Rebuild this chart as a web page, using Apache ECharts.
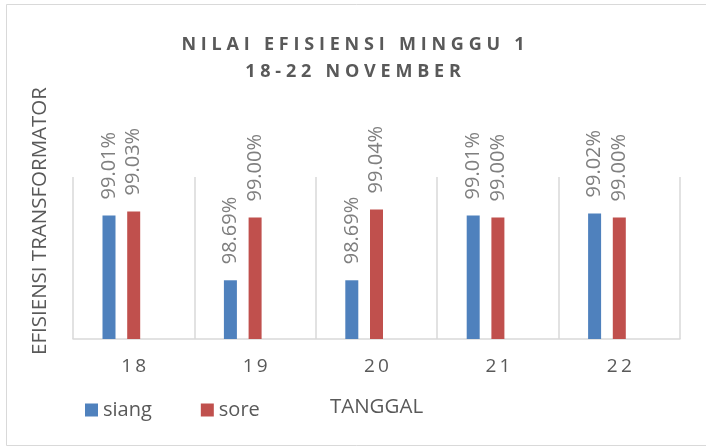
<!DOCTYPE html>
<html>
<head>
<meta charset="utf-8">
<script src="https://cdn.jsdelivr.net/npm/echarts@6/dist/echarts.min.js"></script>
<style>
  html, body { margin: 0; padding: 0; background: #fff; }
  #chart { width: 706px; height: 447px; }
</style>
</head>
<body>
<div id="chart"></div>
<script>
// data
const tanggal = ['18', '19', '20', '21', '22'];
const siang = [99.01, 98.69, 98.69, 99.01, 99.02];
const sore = [99.03, 99.00, 99.04, 99.00, 99.00];
// slot kosong, aslinya menyisakan tempat untuk bar ketiga
const kosong = ['-', '-', '-', '-', '-'];

const FONT = '"Open Sans", sans-serif';
const TEKS = '#595959';

// letter spacing lewat thin space
const renggang = (s, sp) => s.split('').join(sp || '\u2009');

const labelBar = {
    show: true,
    position: 'top',
    distance: 16,
    rotate: 90,
    align: 'left',
    verticalAlign: 'middle',
    color: '#7f7f7f',
    fontFamily: FONT,
    fontSize: 20,
    formatter: p => p.value.toFixed(2) + '%'
};

let myChart = echarts.init(document.getElementById('chart'));

let option = {
    backgroundColor: '#fff',
    animation: false,
    title: {
        text: renggang('NILAI EFISIENSI MINGGU 1', '\u2009\u200a') + '\n' +
              renggang('18-22 NOVEMBER', '\u2009\u200a'),
        left: 'center',
        top: 26,
        textStyle: {
            color: TEKS,
            fontFamily: FONT,
            fontWeight: 'bold',
            fontSize: 18,
            lineHeight: 27
        }
    },
    legend: {
        data: ['siang', 'sore'],
        left: 85,
        top: 400,
        padding: 0,
        icon: 'rect',
        itemWidth: 13,
        itemHeight: 13,
        itemGap: 49,
        textStyle: { color: TEKS, fontFamily: FONT, fontSize: 20 }
    },
    grid: { left: 73, right: 26, top: 177, bottom: 108 },
    xAxis: {
        type: 'category',
        data: tanggal,
        name: 'TANGGAL',
        nameLocation: 'middle',
        nameGap: 58,
        nameTextStyle: { color: TEKS, fontFamily: FONT, fontSize: 20.5 },
        axisLine: { lineStyle: { color: '#d9d9d9', width: 1.5 } },
        axisTick: { show: false },
        axisLabel: {
            color: TEKS,
            fontFamily: FONT,
            fontSize: 19,
            margin: 18,
            formatter: v => renggang(v)
        },
        splitLine: { show: true, lineStyle: { color: '#d9d9d9', width: 1.5 } }
    },
    yAxis: {
        type: 'value',
        min: 98.4,
        max: 99.2,
        axisLine: { show: false },
        axisTick: { show: false },
        axisLabel: { show: false },
        splitLine: { show: false }
    },
    graphic: [
        {
            type: 'rect',
            shape: { x: 6.5, y: 4.5, width: 710, height: 441 },
            style: { fill: 'none', stroke: '#d9d9d9', lineWidth: 1 },
            silent: true
        },
        {
            type: 'text',
            x: 40,
            y: 221,
            rotation: Math.PI / 2,
            style: {
                text: 'EFISIENSI TRANSFORMATOR',
                fill: TEKS,
                font: '20.5px "Open Sans", sans-serif',
                align: 'center',
                verticalAlign: 'middle'
            }
        }
    ],
    series: [
        {
            name: 'siang',
            type: 'bar',
            data: siang,
            barWidth: 13,
            barGap: '90%',
            itemStyle: { color: '#4f81bd' },
            label: labelBar
        },
        {
            name: 'sore',
            type: 'bar',
            data: sore,
            barWidth: 13,
            barGap: '90%',
            itemStyle: { color: '#c0504d' },
            label: labelBar
        },
        {
            name: 'kosong',
            type: 'bar',
            data: kosong,
            barWidth: 13,
            barGap: '90%'
        }
    ]
};

myChart.setOption(option);
</script>
</body>
</html>
